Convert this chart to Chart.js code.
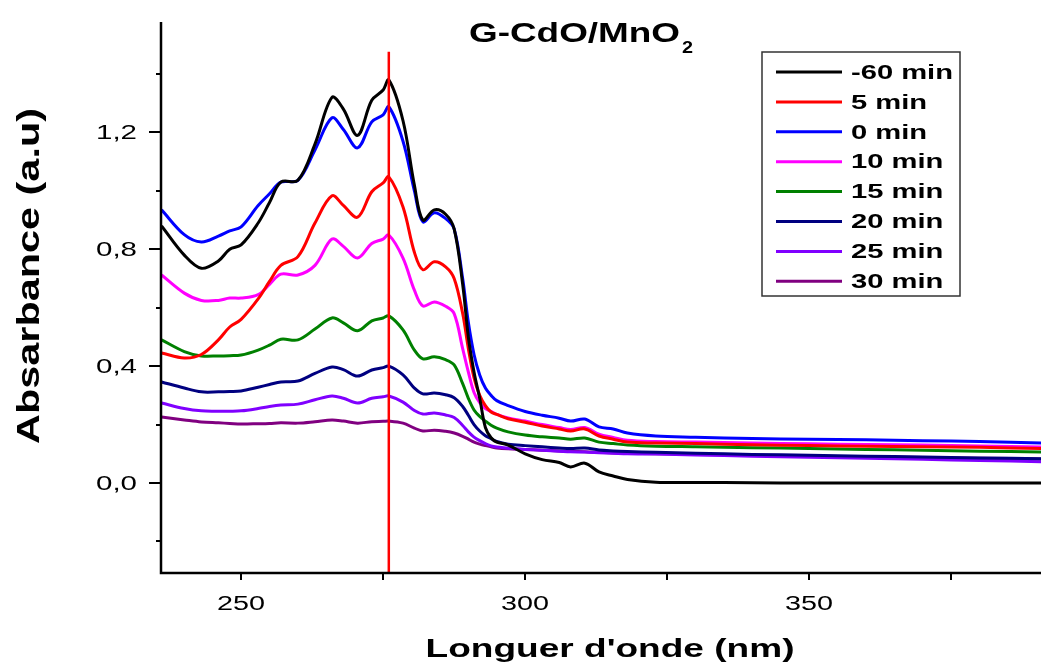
<!DOCTYPE html>
<html>
<head>
<meta charset="utf-8">
<title>G-CdO/MnO2 absorbance</title>
<script src="https://cdn.jsdelivr.net/npm/chart.js@4.4.1/dist/chart.umd.min.js"></script>
<style>
  html, body { margin: 0; padding: 0; background: #fff; }
  #wrap { width: 1041px; height: 664px; }
</style>
</head>
<body>
<div id="wrap"><canvas id="spectra" width="1041" height="664"></canvas></div>
<script>
// wavelength grid (nm) shared by every spectrum
const wavelengths = [236, 240, 243, 246, 248, 250, 253, 255, 257, 260, 263, 266, 268, 270.5, 273, 275, 276,
  278.5, 280.5, 282, 284, 286, 287.5, 289, 290, 291, 292, 293, 294, 295, 297, 300, 303, 306, 308, 310.5,
  313, 315.5, 318, 323, 330, 340, 350, 360, 370, 380, 391];

const absMinus60 = [0.88, 0.78, 0.735, 0.76, 0.80, 0.815, 0.89, 0.96, 1.03, 1.036, 1.16, 1.32, 1.28, 1.19, 1.31, 1.345, 1.38,
  1.24, 1.02, 0.90, 0.935, 0.92, 0.87, 0.68, 0.50, 0.38, 0.29, 0.19, 0.155, 0.14, 0.13, 0.10, 0.08, 0.07, 0.055, 0.068,
  0.038, 0.024, 0.012, 0.003, 0.002, 0.001, 0.0, 0.0, 0.0, 0.0, 0.0];
const abs5 = [0.445, 0.428, 0.44, 0.49, 0.534, 0.56, 0.63, 0.69, 0.745, 0.775, 0.89, 0.983, 0.95, 0.91, 0.997, 1.027, 1.048,
  0.945, 0.79, 0.73, 0.757, 0.74, 0.70, 0.58, 0.46, 0.36, 0.30, 0.265, 0.243, 0.235, 0.22, 0.208, 0.195, 0.185, 0.178, 0.185,
  0.161, 0.15, 0.14, 0.137, 0.135, 0.131, 0.128, 0.126, 0.124, 0.122, 0.118];
const abs0 = [0.935, 0.85, 0.825, 0.845, 0.863, 0.877, 0.95, 0.99, 1.03, 1.036, 1.14, 1.25, 1.21, 1.147, 1.236, 1.26, 1.288,
  1.17, 1.00, 0.894, 0.925, 0.905, 0.87, 0.70, 0.55, 0.44, 0.37, 0.325, 0.30, 0.282, 0.265, 0.245, 0.232, 0.222, 0.212, 0.219,
  0.192, 0.185, 0.171, 0.161, 0.157, 0.152, 0.150, 0.148, 0.145, 0.142, 0.137];
const abs10 = [0.712, 0.65, 0.625, 0.625, 0.633, 0.633, 0.645, 0.68, 0.715, 0.712, 0.745, 0.835, 0.81, 0.77, 0.82, 0.835, 0.849,
  0.77, 0.66, 0.606, 0.62, 0.605, 0.58, 0.46, 0.38, 0.31, 0.275, 0.255, 0.245, 0.235, 0.223, 0.212, 0.20, 0.19, 0.183, 0.19,
  0.167, 0.156, 0.146, 0.142, 0.14, 0.137, 0.134, 0.132, 0.13, 0.127, 0.123];
const abs15 = [0.49, 0.45, 0.435, 0.435, 0.436, 0.438, 0.455, 0.472, 0.492, 0.49, 0.527, 0.565, 0.548, 0.521, 0.555, 0.565, 0.572,
  0.524, 0.455, 0.425, 0.432, 0.422, 0.404, 0.34, 0.29, 0.25, 0.228, 0.212, 0.198, 0.188, 0.175, 0.164, 0.158, 0.154, 0.15, 0.154,
  0.14, 0.135, 0.13, 0.126, 0.124, 0.121, 0.118, 0.115, 0.112, 0.109, 0.106];
const abs20 = [0.346, 0.325, 0.312, 0.312, 0.313, 0.315, 0.328, 0.337, 0.346, 0.349, 0.375, 0.397, 0.388, 0.366, 0.387, 0.395, 0.40,
  0.37, 0.325, 0.305, 0.308, 0.302, 0.292, 0.262, 0.232, 0.20, 0.178, 0.162, 0.152, 0.142, 0.133, 0.128, 0.124, 0.12, 0.118, 0.12,
  0.113, 0.11, 0.108, 0.105, 0.102, 0.098, 0.095, 0.092, 0.089, 0.086, 0.083];
const abs25 = [0.274, 0.255, 0.247, 0.246, 0.246, 0.247, 0.255, 0.262, 0.267, 0.27, 0.285, 0.298, 0.29, 0.274, 0.29, 0.295, 0.298,
  0.277, 0.248, 0.236, 0.24, 0.233, 0.224, 0.197, 0.175, 0.157, 0.145, 0.135, 0.127, 0.123, 0.119, 0.115, 0.112, 0.109, 0.107, 0.106,
  0.104, 0.102, 0.10, 0.099, 0.096, 0.092, 0.088, 0.085, 0.081, 0.077, 0.073];
const abs30 = [0.226, 0.216, 0.209, 0.206, 0.204, 0.202, 0.203, 0.204, 0.206, 0.205, 0.21, 0.216, 0.212, 0.205, 0.21, 0.211, 0.212,
  0.205, 0.188, 0.178, 0.181, 0.177, 0.171, 0.16, 0.15, 0.14, 0.133, 0.128, 0.124, 0.12, 0.117, 0.115, 0.112, 0.11, 0.108, 0.107,
  0.105, 0.103, 0.102, 0.10, 0.098, 0.095, 0.092, 0.09, 0.087, 0.085, 0.082];

const seriesLabels = ["-60 min", "5 min", "0 min", "10 min", "15 min", "20 min", "25 min", "30 min"];
const seriesValues = [absMinus60, abs5, abs0, abs10, abs15, abs20, abs25, abs30];
const seriesColors = ["#000000", "#ff0000", "#0000ff", "#ff00ff", "#008000", "#000080", "#8000ff", "#800080"];

// vertical marker at the main band
const markerWavelength = 276;
const markerTop = 1.476;

// axis ranges and ticks
const xMin = 235.9, xMax = 390.8;
const yMin = -0.308, yMax = 1.578;
const xTickValues = [250, 275, 300, 325, 350, 375];
const xTickLabels = ["250", "", "300", "", "350", ""];
const yTickValues = [-0.2, 0, 0.2, 0.4, 0.6, 0.8, 1.0, 1.2, 1.4];
const yTickLabels = ["", "0,0", "", "0,4", "", "0,8", "", "1,2", ""];

const FONT = "'Liberation Sans', Arial, Helvetica, sans-serif";

const datasets = seriesValues.map((values, i) => ({
  label: seriesLabels[i],
  data: wavelengths.map((w, k) => ({ x: w, y: values[k] })),
  borderColor: seriesColors[i],
  backgroundColor: seriesColors[i],
  borderWidth: 3,
  pointRadius: 0,
  tension: 0.35,
  order: i + 1,
}));

datasets.push({
  label: "marker",
  data: [{ x: markerWavelength, y: yMin }, { x: markerWavelength, y: markerTop }],
  borderColor: "#ff0000",
  borderWidth: 2.5,
  pointRadius: 0,
  order: 0,
});

// the lettering in this figure is wide: stretch along the baseline to a set width
function textStretch(ctx, text, width) {
  return width / ctx.measureText(text).width;
}

function drawWide(ctx, text, x, y, sx, align) {
  ctx.save();
  ctx.translate(x, y);
  ctx.scale(sx, 1);
  ctx.textAlign = align;
  ctx.fillText(text, 0, 0);
  ctx.restore();
}

// axis lines, tick marks and tick labels
const axesPlugin = {
  id: "axes",
  afterDraw(chart) {
    const { ctx, chartArea, scales } = chart;
    const x = scales.x, y = scales.y;
    ctx.save();
    ctx.strokeStyle = "#000";
    ctx.fillStyle = "#000";
    ctx.lineWidth = 2.5;
    ctx.beginPath();
    ctx.moveTo(chartArea.left, chartArea.top);
    ctx.lineTo(chartArea.left, chartArea.bottom);
    ctx.lineTo(chartArea.right, chartArea.bottom);
    ctx.stroke();

    ctx.lineWidth = 2;
    ctx.font = "20px " + FONT;
    ctx.textBaseline = "alphabetic";
    const sxX = textStretch(ctx, "250", 48);
    xTickValues.forEach((v, i) => {
      const px = Math.round(x.getPixelForValue(v));
      ctx.beginPath();
      ctx.moveTo(px, chartArea.bottom);
      ctx.lineTo(px, chartArea.bottom + 7);
      ctx.stroke();
      if (xTickLabels[i]) drawWide(ctx, xTickLabels[i], px, 610, sxX, "center");
    });

    ctx.font = "21px " + FONT;
    ctx.textBaseline = "middle";
    const sxY = textStretch(ctx, "0,0", 41);
    yTickValues.forEach((v, i) => {
      const py = Math.round(y.getPixelForValue(v));
      const len = yTickLabels[i] ? 12 : 5;
      ctx.beginPath();
      ctx.moveTo(chartArea.left, py);
      ctx.lineTo(chartArea.left - len, py);
      ctx.stroke();
      if (yTickLabels[i]) drawWide(ctx, yTickLabels[i], 137, py + 1, sxY, "right");
    });
    ctx.restore();
  },
};

// chart title with subscript, axis titles
const titlePlugin = {
  id: "titles",
  afterDraw(chart) {
    const { ctx } = chart;
    ctx.save();
    ctx.fillStyle = "#000";
    ctx.textBaseline = "alphabetic";

    ctx.font = "bold 28px " + FONT;
    drawWide(ctx, "G-CdO/MnO", 469, 42, textStretch(ctx, "G-CdO/MnO", 211), "left");
    ctx.font = "bold 16px " + FONT;
    drawWide(ctx, "2", 682, 53, textStretch(ctx, "2", 11), "left");

    ctx.font = "bold 26px " + FONT;
    const xTitle = "Longuer d'onde (nm)";
    drawWide(ctx, xTitle, 610, 657, textStretch(ctx, xTitle, 369), "center");

    ctx.font = "bold 32px " + FONT;
    const yTitle = "Absarbance (a.u)";
    const sy = textStretch(ctx, yTitle, 336);
    ctx.translate(30, 276);
    ctx.rotate(-Math.PI / 2);
    ctx.textBaseline = "middle";
    drawWide(ctx, yTitle, 0, 0, sy, "center");
    ctx.restore();
  },
};

// boxed legend in the upper right
const legendPlugin = {
  id: "boxLegend",
  afterDraw(chart) {
    const { ctx } = chart;
    const left = 762, top = 52, width = 198, height = 244;
    const rowGap = 29.9, firstRow = 72;
    ctx.save();
    ctx.fillStyle = "#fff";
    ctx.fillRect(left, top, width, height);
    ctx.strokeStyle = "#333";
    ctx.lineWidth = 1.5;
    ctx.strokeRect(left, top, width, height);
    ctx.font = "bold 21px " + FONT;
    ctx.textBaseline = "middle";
    const sx = textStretch(ctx, "-60 min", 102);
    chart.data.datasets.slice(0, seriesLabels.length).forEach((ds, i) => {
      const cy = firstRow + i * rowGap;
      ctx.strokeStyle = ds.borderColor;
      ctx.lineWidth = 3;
      ctx.beginPath();
      ctx.moveTo(776, cy);
      ctx.lineTo(842, cy);
      ctx.stroke();
      ctx.fillStyle = "#000";
      drawWide(ctx, ds.label, 851, cy + 1, sx, "left");
    });
    ctx.restore();
  },
};

const noPadding = (scale) => {
  scale.paddingLeft = 0;
  scale.paddingRight = 0;
  scale.paddingTop = 0;
  scale.paddingBottom = 0;
};

new Chart(document.getElementById("spectra"), {
  type: "line",
  data: { datasets },
  options: {
    responsive: false,
    animation: false,
    devicePixelRatio: 1,
    layout: { padding: { top: 22, right: 0, left: 0, bottom: 0 } },
    plugins: {
      legend: { display: false },
      tooltip: { enabled: false },
    },
    scales: {
      x: {
        type: "linear",
        min: xMin,
        max: xMax,
        grid: { display: false, drawTicks: false },
        border: { display: false },
        ticks: { display: false },
        afterFit: (scale) => { noPadding(scale); scale.height = 91; },
      },
      y: {
        type: "linear",
        min: yMin,
        max: yMax,
        grid: { display: false, drawTicks: false },
        border: { display: false },
        ticks: { display: false },
        afterFit: (scale) => { noPadding(scale); scale.width = 161; },
      },
    },
  },
  plugins: [axesPlugin, titlePlugin, legendPlugin],
});
</script>
</body>
</html>
